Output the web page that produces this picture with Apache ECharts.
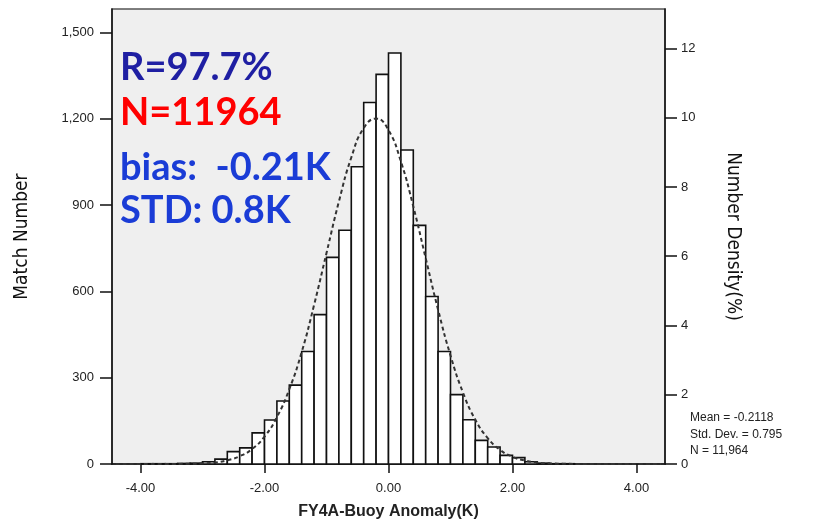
<!DOCTYPE html>
<html>
<head>
<meta charset="utf-8">
<script src="https://cdn.jsdelivr.net/npm/echarts@6/dist/echarts.min.js"></script>
<style>
    html, body { margin: 0; padding: 0; background: #fff; }
    #main { width: 821px; height: 521px; }
</style>
</head>
<body>
<div id="main"></div>
<script>
// histogram bin edges (K) and counts per bin
var binEdges = [-4.0, -3.8, -3.6, -3.4, -3.2, -3.0, -2.8, -2.6, -2.4, -2.2, -2.0, -1.8, -1.6, -1.4, -1.2, -1.0,
    -0.8, -0.6, -0.4, -0.2, 0.0, 0.2, 0.4, 0.6, 0.8, 1.0, 1.2, 1.4, 1.6, 1.8, 2.0, 2.2, 2.4, 2.6, 2.8, 3.0];
var binCounts = [1, 1, 1, 2, 3, 8, 17, 43, 56, 108, 153, 219, 274, 391, 519, 718,
    812, 1033, 1256, 1354, 1428, 1091, 829, 582, 391, 241, 154, 82, 59, 30, 22, 8, 3, 1, 1];

// dashed normal curve
var curveX = [-4.4, -4.0, -3.6, -3.2, -3.0, -2.8, -2.6, -2.4, -2.2, -2.0, -1.8, -1.6, -1.4, -1.2, -1.0, -0.8,
    -0.6, -0.4, -0.2, 0.0, 0.2, 0.4, 0.6, 0.8, 1.0, 1.2, 1.4, 1.6, 1.8, 2.0, 2.2, 2.4, 2.6, 2.8, 3.2, 3.6, 4.0, 4.4];
var curveY = [0, 0, 0, 1, 2, 5, 13, 27, 52, 95, 163, 260, 389, 553, 733, 912,
    1065, 1167, 1200, 1160, 1051, 895, 715, 536, 377, 249, 154, 90, 49, 25, 12, 5, 2, 1, 0, 0, 0, 0];

var xTicks = [-4, -2, 0, 2, 4];
var countTicks = [0, 300, 600, 900, 1200, 1500];
var densityTicks = [0, 2, 4, 6, 8, 10, 12];

var statLines = ['Mean = -0.2118', 'Std. Dev. = 0.795', 'N = 11,964'];

var barData = [];
for (var i = 0; i < binCounts.length; i++) {
    barData.push([binEdges[i], binEdges[i + 1], binCounts[i]]);
}
var curveData = [];
for (var j = 0; j < curveX.length; j++) {
    curveData.push([curveX[j], curveY[j]]);
}

var labelFont = { color: '#222', fontSize: 13, fontFamily: 'Liberation Sans' };
var narrowFont = "'Liberation Sans Narrow', 'DejaVu Sans Condensed', 'Roboto Condensed', sans-serif";

var myChart = echarts.init(document.getElementById('main'));
var option = {
    animation: false,
    backgroundColor: '#fff',
    grid: {
        left: 112, right: 156, top: 9, bottom: 57,
        outerBoundsMode: 'none',
        containLabel: false,
        show: true,
        backgroundColor: '#efefef',
        borderColor: '#555',
        borderWidth: 1.5
    },
    xAxis: {
        type: 'value',
        min: -4.46,
        max: 4.46,
        name: 'FY4A-Buoy Anomaly(K)',
        nameLocation: 'middle',
        nameGap: 40,
        nameTextStyle: { color: '#222', fontSize: 16, fontWeight: 'bold', fontFamily: 'Liberation Sans' },
        axisLine: { onZero: false, lineStyle: { color: '#111', width: 1.5 } },
        axisTick: { length: 9, lineStyle: { color: '#111', width: 1.5 }, customValues: xTicks },
        axisLabel: Object.assign({ margin: 18, customValues: xTicks, formatter: function (v) {
            return v.toFixed(2);
        } }, labelFont),
        splitLine: { show: false }
    },
    yAxis: [
        {
            type: 'value',
            min: 0,
            max: 1581,
            name: 'Match Number',
            nameLocation: 'middle',
            nameGap: 80,
            nameTextStyle: { color: '#111', fontSize: 19, fontFamily: narrowFont },
            axisLine: { show: true, onZero: false, lineStyle: { color: '#111', width: 1.5 } },
            axisTick: { show: true, length: 12, lineStyle: { color: '#111', width: 1.5 }, customValues: countTicks },
            axisLabel: Object.assign({ margin: 18, customValues: countTicks, formatter: function (v) {
                return v >= 1000 ? Math.floor(v / 1000) + ',' + String(v % 1000).padStart(3, '0') : String(v);
            } }, labelFont),
            splitLine: { show: false }
        },
        {
            type: 'value',
            min: 0,
            max: 13.14,
            position: 'right',
            name: 'Number Density(%)',
            nameLocation: 'middle',
            nameGap: 58,
            nameRotate: -90,
            nameTextStyle: { color: '#111', fontSize: 19, fontFamily: narrowFont },
            axisLine: { show: true, onZero: false, lineStyle: { color: '#111', width: 1.5 } },
            axisTick: { show: true, length: 12, lineStyle: { color: '#111', width: 1.5 }, customValues: densityTicks },
            axisLabel: Object.assign({ margin: 16, customValues: densityTicks }, labelFont),
            splitLine: { show: false }
        }
    ],
    series: [
        {
            type: 'custom',
            name: 'hist',
            data: barData,
            encode: { x: [0, 1], y: 2 },
            renderItem: function (params, api) {
                var p0 = api.coord([api.value(0), 0]);
                var p1 = api.coord([api.value(1), api.value(2)]);
                return {
                    type: 'rect',
                    shape: { x: p0[0], y: p1[1], width: p1[0] - p0[0], height: p0[1] - p1[1] },
                    style: { fill: '#fff', stroke: '#111', lineWidth: 1.6 }
                };
            },
            z: 2
        },
        {
            type: 'line',
            name: 'normal',
            data: curveData,
            smooth: true,
            symbol: 'none',
            lineStyle: { color: '#333', width: 2, type: [4, 3] },
            z: 3
        }
    ],
    graphic: [
        { type: 'text', x: 120, y: 68, style: { text: 'R=97.7%', fill: '#1f1fa3', font: 'bold 38px Lato', verticalAlign: 'middle' } },
        { type: 'text', x: 120, y: 113, style: { text: 'N=11964', fill: '#ff0000', font: 'bold 38px Lato', verticalAlign: 'middle' } },
        { type: 'text', x: 120, y: 168, style: { text: 'bias:  -0.21K', fill: '#1a3cd6', font: 'bold 38px Lato', verticalAlign: 'middle' } },
        { type: 'text', x: 120, y: 211, style: { text: 'STD: 0.8K', fill: '#1a3cd6', font: 'bold 38px Lato', verticalAlign: 'middle' } },
        { type: 'text', x: 690, y: 418, style: { text: statLines[0], fill: '#222', font: '12px "Liberation Sans"', verticalAlign: 'middle' } },
        { type: 'text', x: 690, y: 435, style: { text: statLines[1], fill: '#222', font: '12px "Liberation Sans"', verticalAlign: 'middle' } },
        { type: 'text', x: 690, y: 451, style: { text: statLines[2], fill: '#222', font: '12px "Liberation Sans"', verticalAlign: 'middle' } }
    ]
};
myChart.setOption(option);
</script>
</body>
</html>
